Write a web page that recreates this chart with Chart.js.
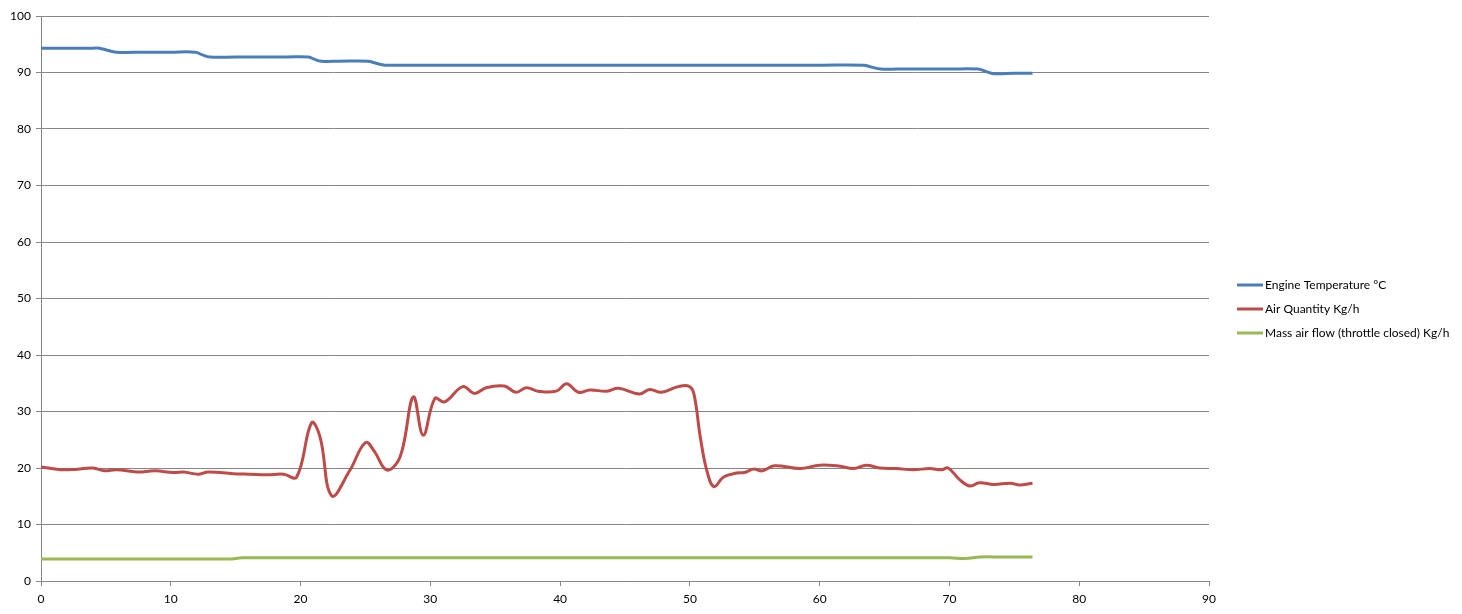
<!DOCTYPE html>
<html>
<head>
<meta charset="utf-8">
<script src="https://cdn.jsdelivr.net/npm/chart.js@4.4.1/dist/chart.umd.min.js"></script>
<style>
  html, body { margin: 0; padding: 0; background: #fff; }
  #wrap { position: relative; width: 1462px; height: 614px; }
</style>
</head>
<body>
<div id="wrap"><canvas id="chart"></canvas></div>
<script>
// Axis ticks
const xTickValues = [0, 10, 20, 30, 40, 50, 60, 70, 80, 90];
const yTickValues = [0, 10, 20, 30, 40, 50, 60, 70, 80, 90, 100];

// Engine Temperature °C
const tempX = [0, 2, 4, 4.5, 5.1, 5.8, 8, 10, 11.9, 12.4, 13.0, 15, 17, 19, 20.6, 21.0, 21.6, 23, 25.2, 25.8, 26.5,
  28, 32, 36, 40, 44, 48, 52, 56, 60, 63.4, 64.0, 64.7, 66, 68, 70, 72.2, 72.8, 73.4, 75, 76.4];
const tempY = [94.3, 94.3, 94.3, 94.3, 93.95, 93.6, 93.6, 93.6, 93.6, 93.15, 92.75, 92.75, 92.75, 92.75, 92.75, 92.4, 92.0, 92.0, 92.0, 91.65, 91.3,
  91.3, 91.3, 91.3, 91.3, 91.3, 91.3, 91.3, 91.3, 91.3, 91.3, 90.95, 90.6, 90.6, 90.6, 90.6, 90.6, 90.2, 89.8, 89.85, 89.85];

// Air Quantity Kg/h
const airX = [0, 1.5, 2.8, 4.0, 4.9, 5.8, 7.4, 8.8, 10.2, 11.0, 12.1, 12.9, 14.8, 16.1, 17.4, 18.7, 19.7,
  20.85, 21.5, 22.4, 23.8, 25.0, 25.7, 26.6, 27.4, 27.9, 28.7, 29.45, 30.35, 31.1, 32.5, 33.4, 34.3, 35.7,
  36.6, 37.4, 38.3, 39.7, 40.5, 41.4, 42.3, 43.6, 44.5, 46.1, 46.9, 47.8, 49.1, 49.9, 50.3, 50.8, 51.3,
  51.85, 52.6, 53.6, 54.2, 54.9, 55.6, 56.5, 58.5, 60.0, 61.6, 62.6, 63.6, 64.6, 65.9, 67.2, 68.5, 69.4,
  69.9, 70.8, 71.6, 72.3, 73.4, 74.7, 75.4, 76.4];
const airY = [20.2, 19.7, 19.8, 20.0, 19.5, 19.7, 19.3, 19.5, 19.2, 19.3, 18.9, 19.3, 19.0, 18.9, 18.8, 18.9, 18.4,
  28.0, 25.5, 15.1, 19.6, 24.5, 22.9, 19.7, 20.8, 23.8, 32.6, 25.8, 32.3, 31.7, 34.4, 33.2, 34.2, 34.5,
  33.4, 34.2, 33.6, 33.6, 34.9, 33.4, 33.8, 33.6, 34.1, 33.1, 33.9, 33.4, 34.4, 34.5, 33.2, 25.5, 19.6,
  16.7, 18.4, 19.1, 19.2, 19.8, 19.5, 20.4, 19.9, 20.5, 20.3, 19.9, 20.5, 20.0, 19.9, 19.7, 19.9, 19.7,
  20.0, 17.9, 16.8, 17.4, 17.1, 17.3, 17.0, 17.3];

// Mass air flow (throttle closed) Kg/h
const mafX = [0, 5, 10, 14.5, 15.5, 20, 30, 40, 50, 60, 70, 71.2, 72.4, 74, 76.4];
const mafY = [3.9, 3.9, 3.9, 3.9, 4.1, 4.1, 4.1, 4.1, 4.1, 4.1, 4.1, 4.0, 4.25, 4.25, 4.25];

const seriesNames = ['Engine Temperature °C', 'Air Quantity Kg/h', 'Mass air flow (throttle closed) Kg/h'];
const seriesColors = ['#4A7EBB', '#BE4B48', '#98B954'];

const FONT = 'Lato, "Liberation Sans", sans-serif';

function toPoints(xs, ys) {
  return xs.map((x, i) => ({ x: x, y: ys[i] }));
}

// Legend drawn at the right, Excel style (short line + label)
const sideLegend = {
  id: 'sideLegend',
  afterDraw(chart) {
    const ctx = chart.ctx;
    const x0 = 1237, y0 = 285, gap = 24;
    chart.data.datasets.forEach((ds, i) => {
      const y = y0 + i * gap;
      ctx.save();
      ctx.strokeStyle = ds.borderColor;
      ctx.lineWidth = 3;
      ctx.beginPath();
      ctx.moveTo(x0, y);
      ctx.lineTo(x0 + 26, y);
      ctx.stroke();
      ctx.fillStyle = '#000';
      ctx.font = '12px ' + FONT;
      ctx.textBaseline = 'middle';
      ctx.fillText(ds.label, x0 + 28, y);
      ctx.restore();
    });
  }
};

const datasets = [
  toPoints(tempX, tempY),
  toPoints(airX, airY),
  toPoints(mafX, mafY)
].map((pts, i) => ({
  label: seriesNames[i],
  data: pts,
  showLine: true,
  borderColor: seriesColors[i],
  backgroundColor: seriesColors[i],
  borderWidth: 3,
  pointRadius: 0,
  pointHoverRadius: 0,
  tension: 0.4,
  fill: false
}));

new Chart(document.getElementById('chart'), {
  type: 'scatter',
  data: { datasets: datasets },
  plugins: [sideLegend],
  options: {
    responsive: true,
    maintainAspectRatio: false,
    animation: false,
    layout: { padding: { top: 16, right: 253, left: 0, bottom: 0 } },
    plugins: {
      legend: { display: false },
      tooltip: { enabled: false }
    },
    scales: {
      x: {
        type: 'linear',
        min: 0,
        max: 90,
        afterBuildTicks: s => { s.ticks = xTickValues.map(v => ({ value: v })); },
        afterFit: s => { s.height = 33; },
        border: { display: true, color: '#868686' },
        grid: { drawOnChartArea: false, drawTicks: true, tickLength: 5, color: '#868686' },
        ticks: { color: '#000', font: { family: FONT, size: 12 }, padding: 6, maxRotation: 0 }
      },
      y: {
        type: 'linear',
        min: 0,
        max: 100,
        afterBuildTicks: s => { s.ticks = yTickValues.map(v => ({ value: v })); },
        afterFit: s => { s.width = 41; },
        border: { display: true, color: '#868686' },
        grid: { color: '#868686', tickLength: 5 },
        ticks: { color: '#000', font: { family: FONT, size: 12 }, padding: 5 }
      }
    }
  }
});
</script>
</body>
</html>
